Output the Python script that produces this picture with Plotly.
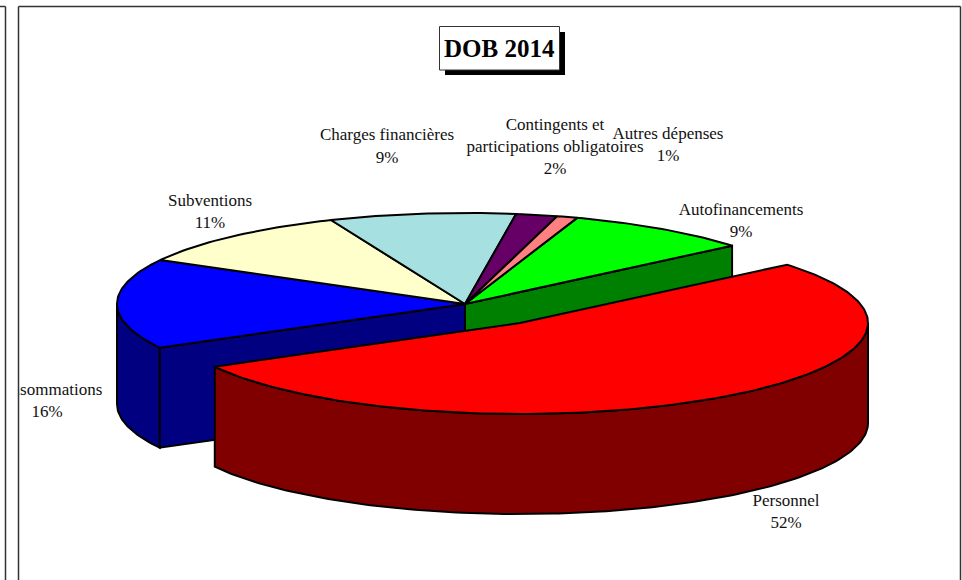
import math
import plotly.graph_objects as go

# Budget shares, clockwise from the Autofinancements slice
categories = ["Autofinancements", "Personnel", "Consommations", "Subventions",
              "Charges financières", "Contingents et participations obligatoires", "Autres dépenses"]
shares = [9, 52, 16, 11, 9, 2, 1]
top_colors = ["#00FF00", "#FF0000", "#0000FF", "#FFFFCC", "#A6E0E0", "#660066", "#FF8080"]
wall_colors = ["#008000", "#800000", "#000080", "#808066", "#538080", "#330033", "#804040"]
title_text = "DOB 2014"

# Page geometry of the tilted pie, in pixels
CX, CY = 465, 304
RX, RY = 348, 91
DEPTH = 100
START_ANGLE = -70.4
PERSPECTIVE = 0.042
EXPLODE = {"Personnel": (55, 19)}

# Label placement: centre x, first line y, line step, lines
label_layout = [
    (387, 136, 23, ["Charges financières", "9%"]),
    (555, 126, 22, ["Contingents et", "participations obligatoires", "2%"]),
    (668, 135, 22, ["Autres dépenses", "1%"]),
    (210, 202, 22, ["Subventions", "11%"]),
    (741, 211, 22, ["Autofinancements", "9%"]),
    (47, 391, 22, ["Consommations", "16%"]),
    (786, 502, 22, ["Personnel", "52%"]),
]
FONT = "Liberation Serif"


def foreshorten(deg):
    """Disc angle to drawn angle: slices nearer the viewer open up slightly."""
    t = math.radians(deg)
    d = 1 - PERSPECTIVE * math.sin(t)
    s = (math.sin(t) - PERSPECTIVE) / d
    c = math.sqrt(1 - PERSPECTIVE ** 2) * math.cos(t) / d
    out = math.degrees(math.atan2(s, c))
    # stay on the same turn as the input
    return out + 360 * round((deg - out) / 360)


def rim(a0, a1, cx, cy, dy=0):
    n = max(2, int(abs(a1 - a0)) + 1)
    xs, ys = [], []
    for i in range(n + 1):
        t = math.radians(a0 + (a1 - a0) * i / n)
        xs.append(cx + RX * math.cos(t))
        ys.append(cy + RY * math.sin(t) + dy)
    return xs, ys


def polygon(xs, ys, color):
    return go.Scatter(x=xs, y=ys, mode="lines", fill="toself", fillcolor=color,
                      line=dict(color="black", width=2), hoverinfo="skip", showlegend=False)


def wall_outer(a0, a1, cx, cy, color):
    xt, yt = rim(a0, a1, cx, cy)
    xb, yb = rim(a1, a0, cx, cy, DEPTH)
    return polygon(xt + xb + xt[:1], yt + yb + yt[:1], color)


def wall_cut(a, cx, cy, color):
    xe, ye = rim(a, a, cx, cy)
    xs = [cx, xe[0], xe[0], cx, cx]
    ys = [cy, ye[0], ye[0] + DEPTH, cy + DEPTH, cy]
    return polygon(xs, ys, color)


# Slice angles follow directly from the shares
spans = []
angle = START_ANGLE
for name, share in zip(categories, shares):
    end = angle + share * 3.6
    spans.append((name, foreshorten(angle), foreshorten(end)))
    angle = end

traces = []
by_name = {name: i for i, name in enumerate(categories)}

# Side walls of the slices that stay in place
_, a0, a1 = spans[by_name["Consommations"]]
traces.append(wall_outer(a0, 180, CX, CY, wall_colors[by_name["Consommations"]]))
traces.append(wall_cut(a0, CX, CY, wall_colors[by_name["Consommations"]]))
_, a0, a1 = spans[by_name["Autofinancements"]]
traces.append(wall_cut(a1, CX, CY, wall_colors[by_name["Autofinancements"]]))

# Top faces of the slices that stay in place
for (name, a0, a1), color in zip(spans, top_colors):
    if name in EXPLODE:
        continue
    xs, ys = rim(a0, a1, CX, CY)
    traces.append(polygon([CX] + xs + [CX], [CY] + ys + [CY], color))

# Pulled-out slice drawn last, so it covers the rest
for (name, a0, a1), top, wall in zip(spans, top_colors, wall_colors):
    if name not in EXPLODE:
        continue
    dx, dy = EXPLODE[name]
    traces.append(wall_outer(0, a1, CX + dx, CY + dy, wall))
    xs, ys = rim(a0, a1, CX + dx, CY + dy)
    traces.append(polygon([CX + dx] + xs + [CX + dx], [CY + dy] + ys + [CY + dy], top))

# Labels are scatter text so that the plot area trims the left-most one
tx, ty, tt = [], [], []
for x, y, step, lines in label_layout:
    for i, line in enumerate(lines):
        tx.append(x)
        ty.append(y + i * step)
        tt.append(line)
traces.append(go.Scatter(x=tx, y=ty, text=tt, mode="text", textposition="middle center",
                         textfont=dict(family=FONT, size=17, color="#111111"),
                         cliponaxis=True, hoverinfo="skip", showlegend=False))

fig = go.Figure(traces)

PLOT_L = 18
PLOT_W = 962 - PLOT_L


def px(x):
    return (x - PLOT_L) / PLOT_W


FRAME = dict(color="#333333", width=1.5)
shapes = [
    # Chart frame and the edge of the neighbouring panel
    dict(type="line", xref="paper", yref="y", x0=px(18.5), x1=px(18.5), y0=6.5, y1=580, line=FRAME),
    dict(type="line", xref="paper", yref="y", x0=px(18.5), x1=px(960.5), y0=6.5, y1=6.5, line=FRAME),
    dict(type="line", xref="paper", yref="y", x0=px(960.5), x1=px(960.5), y0=6.5, y1=580, line=FRAME),
    dict(type="line", xref="paper", yref="y", x0=px(5.5), x1=px(5.5), y0=6.5, y1=580, line=FRAME),
    dict(type="line", xref="paper", yref="y", x0=px(0), x1=px(5.5), y0=6.5, y1=6.5, line=FRAME),
    # Title box with its drop shadow
    dict(type="rect", xref="x", yref="y", x0=445, x1=565, y0=32, y1=75,
         fillcolor="black", line=dict(width=0), layer="above"),
    dict(type="rect", xref="x", yref="y", x0=439.5, x1=559.5, y0=26.5, y1=70,
         fillcolor="white", line=dict(color="#333333", width=1), layer="above"),
]

fig.update_layout(
    width=962, height=580,
    margin=dict(l=PLOT_L, r=0, t=0, b=0),
    paper_bgcolor="white", plot_bgcolor="white",
    showlegend=False,
    shapes=shapes,
    xaxis=dict(range=[PLOT_L, 962], visible=False, fixedrange=True),
    yaxis=dict(range=[580, 0], visible=False, fixedrange=True),
    annotations=[dict(x=499.5, y=48.5, xref="x", yref="y", text=f"<b>{title_text}</b>",
                      showarrow=False, font=dict(family=FONT, size=25, color="black"))],
)

fig.write_html("out.html", config={"displayModeBar": False})
